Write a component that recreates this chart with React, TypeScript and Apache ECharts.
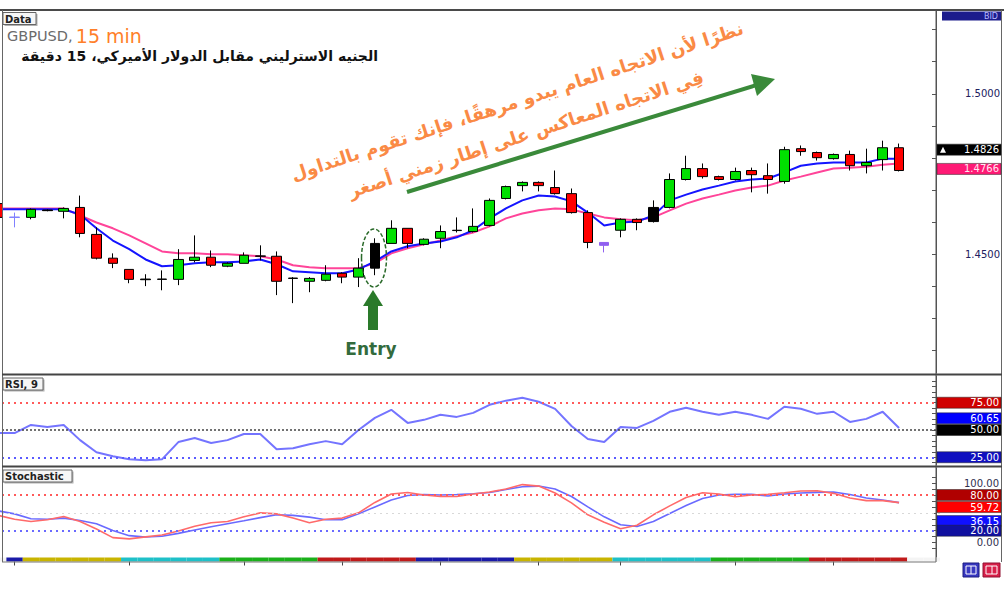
import React, { useEffect, useRef } from 'react';
import * as echarts from 'echarts';

// ---------- data ----------
const categories = Array.from({ length: 58 }, (_, i) => `#${i + 1}`);

const opens = [1.4658, 1.4616, 1.4615, 1.4636, 1.4634, 1.4646, 1.4562, 1.4488, 1.4453, 1.4423,
  1.4422, 1.4422, 1.4481, 1.4491, 1.4463, 1.4472, 1.4495, 1.4494, 1.4426, 1.4416,
  1.4419, 1.4441, 1.4429, 1.4457, 1.4534, 1.4581, 1.4531, 1.4550, 1.4575, 1.4571,
  1.4590, 1.4674, 1.4714, 1.4724, 1.4708, 1.4689, 1.4630, 1.4537, 1.4575, 1.4609,
  1.4602, 1.4646, 1.4733, 1.4767, 1.4742, 1.4733, 1.4761, 1.4745, 1.4727, 1.4829,
  1.4817, 1.4798, 1.4811, 1.4776, 1.4795, 1.4832];
const closes = [1.4615, 1.4615, 1.4640, 1.4638, 1.4643, 1.4565, 1.4488, 1.4472, 1.4422, 1.4421,
  1.4423, 1.4484, 1.4491, 1.4466, 1.4472, 1.4497, 1.4494, 1.4416, 1.4425, 1.4425,
  1.4438, 1.4429, 1.4457, 1.4534, 1.4581, 1.4534, 1.4547, 1.4571, 1.4574, 1.4587,
  1.4668, 1.4711, 1.4724, 1.4714, 1.4689, 1.4630, 1.4537, 1.4528, 1.4609, 1.4599,
  1.4646, 1.4733, 1.4767, 1.4742, 1.4733, 1.4758, 1.4748, 1.4733, 1.4826, 1.4820,
  1.4801, 1.4811, 1.4776, 1.4786, 1.4832, 1.4761];
const lows = [1.4612, 1.4584, 1.4609, 1.4634, 1.4612, 1.4553, 1.4484, 1.4457, 1.4410, 1.4401,
  1.4388, 1.4404, 1.4475, 1.4460, 1.4460, 1.4472, 1.4481, 1.4373, 1.4348, 1.4382,
  1.4416, 1.4410, 1.4398, 1.4435, 1.4534, 1.4519, 1.4528, 1.4519, 1.4568, 1.4568,
  1.4587, 1.4671, 1.4696, 1.4696, 1.4686, 1.4627, 1.4519, 1.4506, 1.4553, 1.4575,
  1.4599, 1.4643, 1.4730, 1.4736, 1.4730, 1.4730, 1.4693, 1.4689, 1.4720, 1.4807,
  1.4792, 1.4795, 1.4761, 1.4752, 1.4761, 1.4758];
const highs = [1.4661, 1.4630, 1.4643, 1.4640, 1.4646, 1.4683, 1.4584, 1.4503, 1.4453, 1.4438,
  1.4450, 1.4516, 1.4559, 1.4512, 1.4475, 1.4506, 1.4528, 1.4509, 1.4429, 1.4429,
  1.4466, 1.4444, 1.4488, 1.4550, 1.4606, 1.4581, 1.4550, 1.4590, 1.4615, 1.4643,
  1.4674, 1.4714, 1.4727, 1.4727, 1.4761, 1.4705, 1.4637, 1.4537, 1.4612, 1.4612,
  1.4668, 1.4752, 1.4807, 1.4783, 1.4745, 1.4770, 1.4770, 1.4783, 1.4835, 1.4839,
  1.4820, 1.4814, 1.4823, 1.4829, 1.4854, 1.4845];

const fastMA = [1.4640, 1.4640, 1.4640, 1.4640, 1.4640, 1.4624, 1.4581, 1.4543, 1.4516, 1.4484,
  1.4463, 1.4466, 1.4472, 1.4475, 1.4475, 1.4478, 1.4484, 1.4469, 1.4447, 1.4444,
  1.4441, 1.4441, 1.4453, 1.4478, 1.4509, 1.4525, 1.4534, 1.4540, 1.4553, 1.4575,
  1.4612, 1.4643, 1.4668, 1.4683, 1.4680, 1.4665, 1.4630, 1.4590, 1.4599, 1.4602,
  1.4621, 1.4668, 1.4686, 1.4702, 1.4714, 1.4727, 1.4733, 1.4736, 1.4755, 1.4776,
  1.4783, 1.4786, 1.4786, 1.4786, 1.4798, 1.4798];
const slowMA = [1.4643, 1.4643, 1.4643, 1.4643, 1.4643, 1.4621, 1.4599, 1.4581, 1.4559, 1.4534,
  1.4509, 1.4503, 1.4503, 1.4500, 1.4500, 1.4497, 1.4494, 1.4484, 1.4466, 1.4460,
  1.4457, 1.4457, 1.4457, 1.4472, 1.4503, 1.4519, 1.4531, 1.4543, 1.4556, 1.4568,
  1.4587, 1.4612, 1.4627, 1.4637, 1.4643, 1.4640, 1.4627, 1.4615, 1.4609, 1.4606,
  1.4615, 1.4637, 1.4658, 1.4674, 1.4686, 1.4699, 1.4708, 1.4714, 1.4730, 1.4742,
  1.4755, 1.4767, 1.4770, 1.4773, 1.4779, 1.4783];

const rsi9 = [47.2, 47.2, 54.6, 52.8, 54.6, 40.7, 29.6, 25.9, 23.1, 22.2,
  23.1, 38.9, 42.6, 38.0, 40.7, 46.3, 46.3, 32.4, 33.3, 37.0,
  39.8, 37.0, 50.0, 61.1, 68.5, 56.5, 59.3, 63.9, 62.0, 65.7,
  73.1, 76.9, 79.6, 75.9, 69.4, 53.7, 41.7, 38.9, 52.8, 51.9,
  58.3, 66.7, 70.4, 66.7, 63.9, 66.7, 63.9, 60.2, 71.3, 69.4,
  64.8, 66.7, 57.4, 60.2, 66.7, 51.9];

const stochMain = [53.3, 48.3, 40.0, 39.2, 41.2, 37.2, 31.7, 20.5, 11.7, 9.5,
  10.8, 15.5, 21.2, 26.7, 31.7, 36.7, 42.0, 46.7, 45.8, 42.8,
  38.3, 38.3, 48.3, 60.0, 71.7, 79.2, 80.8, 80.0, 80.8, 82.0,
  84.2, 89.2, 93.8, 95.0, 90.0, 77.5, 60.0, 43.3, 30.0, 27.2,
  35.5, 48.8, 62.5, 74.2, 80.0, 81.2, 81.2, 78.3, 81.7, 83.3,
  84.5, 85.0, 80.8, 75.0, 71.7, 67.2];
const stochSignal = [45.8, 39.2, 35.5, 38.3, 43.8, 35.5, 22.8, 8.3, 6.2, 9.7,
  12.8, 19.5, 27.5, 33.3, 35.5, 43.3, 50.0, 48.3, 41.2, 33.3,
  39.2, 41.2, 50.0, 67.5, 81.7, 84.2, 80.0, 77.5, 77.5, 81.7,
  85.0, 90.0, 97.5, 95.0, 83.3, 66.7, 46.7, 34.2, 23.3, 29.2,
  46.7, 61.7, 75.8, 83.8, 81.7, 77.2, 80.0, 81.2, 83.8, 86.7,
  87.2, 82.8, 75.0, 70.5, 70.5, 67.2];

const priceTicks = [1.42, 1.43, 1.44, 1.45, 1.46, 1.47, 1.48, 1.49, 1.50, 1.51, 1.52];
const priceLabels = [1.45, 1.50];
const rsiTicks = [20, 25, 30, 35, 40, 45, 50, 55, 60, 65, 70, 75, 80, 85, 90, 95];
const stochTicks = [-10, 0, 10, 20, 30, 40, 50, 60, 70, 80, 90, 100, 110];
const timeTickBars = [1, 8, 15, 21, 27, 33, 38, 45, 51];

const bidPrice = 1.4826;
const maTagPrice = 1.4766;
const rsiLevels = [75, 50, 25];
const rsiTagValues = [75, 60.65, 50, 25];
const stochLevels = [80, 50, 20];
const stochTagValues = [100, 80, 59.72, 36.15, 20, 0];

// styles (kept apart from the values)
const specialCandleColors: Record<number, string> = {
  1: '#8080ff', 3: '#000000', 9: '#000000', 10: '#000000', 16: '#000000',
  18: '#000000', 23: '#000000', 28: '#000000', 37: '#9060f0', 40: '#000000',
};
const sessionSegments: [number, number, string][] = [
  [0, 0, '#f4f4f4'], [1, 1, '#1a1aa8'], [2, 7, '#c8b400'], [8, 13, '#1ec0c8'],
  [14, 19, '#1ab01a'], [20, 25, '#c01a1a'], [26, 31, '#1a1aa8'], [32, 37, '#c8b400'],
  [38, 43, '#1ec0c8'], [44, 49, '#1ab01a'], [50, 55, '#c01a1a'], [56, 57, '#f4f4f4'],
];
const rsiTagColors = ['#d00000', '#0000ff', '#000000', '#1010c0'];
const stochTagColors = ['', '#b00000', '#ff0000', '#1010ff', '#1010a0', ''];

const titleArabic = 'الجنيه الاسترليني مقابل الدولار الأميركي، 15 دقيقة';
const noteLine1 = 'نظرًا لأن الاتجاه العام يبدو مرهقًا، فإنك تقوم بالتداول';
const noteLine2 = 'فِي الاتجاه المعاكس على إطار زمني أصغر';
const RLE = '\u202B';
const PDF = '\u202C';

const FONT = '"DejaVu Sans", sans-serif';
// the chart canvas starts SHIFT px left of the page so the first bar is cut by the frame
const SHIFT = 10;

function sessionColor(i: number) {
  for (const [a, b, c] of sessionSegments) if (i >= a && i <= b) return c;
  return '#f4f4f4';
}

function buildCandles() {
  return opens.map((o, i) => {
    const item: any = { value: [o, closes[i], lows[i], highs[i]] };
    const c = specialCandleColors[i];
    if (c) {
      item.itemStyle = { color: c, color0: c, borderColor: c, borderColor0: c };
    }
    return item;
  });
}

const GRID_LEFT = 0;
const GRID_W = 950;

function buildOption(): any {
  const hiddenX = (gridIndex: number) => ({
    type: 'category', gridIndex, data: categories, boundaryGap: true,
    axisLine: { show: false }, axisTick: { show: false }, axisLabel: { show: false },
    splitLine: { show: false },
  });
  const rightY = (gridIndex: number, min: number, max: number, ticks: number[]) => ({
    type: 'value', gridIndex, position: 'right', min, max, offset: -4, scale: true,
    axisLine: { show: true, lineStyle: { color: '#555', width: 1 } },
    axisTick: { show: true, inside: true, length: 4, customValues: ticks, lineStyle: { color: '#555' } },
    axisLabel: { show: false },
    splitLine: { show: false },
  });
  const y0: any = rightY(0, 1.41304, 1.52578, priceTicks);
  y0.axisLabel = {
    show: true, customValues: priceLabels, formatter: (v: number) => v.toFixed(4),
    align: 'right', margin: 64, color: '#202060', fontSize: 10, fontFamily: FONT,
  };
  const dotted = (v: number, color: string, dash: number[], width: number) => ({
    yAxis: v, lineStyle: { color, type: dash, width, cap: 'butt' },
  });
  return {
    animation: false,
    backgroundColor: '#ffffff',
    grid: [
      { left: GRID_LEFT, top: 11, width: GRID_W, height: 362 },
      { left: GRID_LEFT, top: 376, width: GRID_W, height: 89 },
      { left: GRID_LEFT, top: 468, width: GRID_W, height: 89 },
      { left: GRID_LEFT, top: 557.5, width: GRID_W, height: 4 },
    ],
    xAxis: [
      hiddenX(0), hiddenX(1), hiddenX(2),
      {
        type: 'category', gridIndex: 3, data: categories, boundaryGap: true,
        axisLine: { show: false },
        axisTick: {
          show: true, alignWithLabel: true, length: 4,
          interval: (idx: number) => timeTickBars.includes(idx),
          lineStyle: { color: '#444' },
        },
        axisLabel: { show: false }, splitLine: { show: false },
      },
    ],
    yAxis: [
      y0,
      rightY(1, 17.9, 99.5, rsiTicks),
      rightY(2, -24.2, 125.4, stochTicks),
      { type: 'value', gridIndex: 3, min: 0, max: 1, show: false },
    ],
    series: [
      {
        name: 'GBPUSD', type: 'candlestick', xAxisIndex: 0, yAxisIndex: 0,
        barWidth: 10, data: buildCandles(),
        itemStyle: { color: '#00e000', color0: '#ff0000', borderColor: '#000', borderColor0: '#000', borderWidth: 1 },
        z: 3,
      },
      {
        name: 'MA slow', type: 'line', xAxisIndex: 0, yAxisIndex: 0, data: slowMA,
        symbol: 'none', lineStyle: { color: '#ff4499', width: 2 }, z: 2,
      },
      {
        name: 'MA fast', type: 'line', xAxisIndex: 0, yAxisIndex: 0, data: fastMA,
        symbol: 'none', lineStyle: { color: '#1414ff', width: 2 }, z: 2,
      },
      {
        name: 'RSI, 9', type: 'line', xAxisIndex: 1, yAxisIndex: 1, data: rsi9,
        symbol: 'none', lineStyle: { color: '#7474ff', width: 2 },
        markLine: {
          silent: true, symbol: 'none', label: { show: false }, animation: false,
          data: [
            dotted(rsiLevels[0], '#ff5a5a', [2, 4], 2),
            dotted(rsiLevels[1], '#444444', [2, 2], 1.5),
            dotted(rsiLevels[2], '#5a5aff', [2, 4], 2),
          ],
        },
      },
      {
        name: 'Stoch main', type: 'line', xAxisIndex: 2, yAxisIndex: 2, data: stochMain,
        symbol: 'none', lineStyle: { color: '#6a6aff', width: 1.6 },
        markLine: {
          silent: true, symbol: 'none', label: { show: false }, animation: false,
          data: [
            dotted(stochLevels[0], '#ff5a5a', [2, 4], 2),
            dotted(stochLevels[1], '#d8d8d8', [2, 4], 1),
            dotted(stochLevels[2], '#6a6aff', [2, 4], 2),
          ],
        },
      },
      {
        name: 'Stoch signal', type: 'line', xAxisIndex: 2, yAxisIndex: 2, data: stochSignal,
        symbol: 'none', lineStyle: { color: '#ff6a6a', width: 1.6 },
      },
      {
        name: 'Sessions', type: 'bar', xAxisIndex: 3, yAxisIndex: 3, barCategoryGap: 0,
        data: categories.map((_, i) => ({ value: 1, itemStyle: { color: sessionColor(i) } })),
        silent: true,
      },
    ],
  };
}

function tag(y: number, text: string, bg: string, fg: string, withArrow = false): any[] {
  const els: any[] = [];
  if (bg) {
    els.push({ type: 'rect', shape: { x: 937, y: y - 5.5, width: 64, height: 11 }, style: { fill: bg, stroke: '#222', lineWidth: 0.5 }, z: 50 });
  }
  if (withArrow) {
    els.push({ type: 'polygon', shape: { points: [[940, y + 3], [946, y + 3], [943, y - 3]] }, style: { fill: '#fff' }, z: 51 });
  }
  els.push({
    type: 'text', x: 999, y, z: 52,
    style: { text, fill: fg, font: `10px ${FONT}`, align: 'right', textAlign: 'right', verticalAlign: 'middle', textVerticalAlign: 'middle' },
  });
  return els;
}

function panelLabel(x: number, y: number, w: number, text: string): any[] {
  return [
    { type: 'rect', shape: { x: x + 1.5, y: y + 1.5, width: w, height: 12 }, style: { fill: '#b0b0b0' }, z: 40 },
    { type: 'rect', shape: { x, y, width: w, height: 12 }, style: { fill: '#f6f6f6', stroke: '#666', lineWidth: 1 }, z: 41 },
    {
      type: 'text', x: x + 2, y: y + 6.5, z: 42,
      style: { text, fill: '#222', font: `bold 10px ${FONT}`, verticalAlign: 'middle', textVerticalAlign: 'middle' },
    },
  ];
}

// page coordinates (the group is moved by SHIFT to undo the canvas shift)
function buildGraphics(py: (axis: number, v: number) => number): any[] {
  const g: any[] = [];
  // frame
  g.push({ type: 'rect', shape: { x: 0, y: 9, width: 1004, height: 2 }, style: { fill: '#4a4a4a' }, z: 30 });
  g.push({ type: 'line', shape: { x1: 2.5, y1: 10, x2: 2.5, y2: 562 }, style: { stroke: '#666', lineWidth: 1 }, z: 30 });
  g.push({ type: 'line', shape: { x1: 1001.5, y1: 10, x2: 1001.5, y2: 562 }, style: { stroke: '#666', lineWidth: 1 }, z: 30 });
  g.push({ type: 'line', shape: { x1: 936, y1: 10, x2: 936, y2: 562 }, style: { stroke: '#555', lineWidth: 1 }, z: 30 });
  g.push({ type: 'rect', shape: { x: 2, y: 373.5, width: 1000, height: 2 }, style: { fill: '#444' }, z: 30 });
  g.push({ type: 'rect', shape: { x: 2, y: 465.5, width: 1000, height: 2 }, style: { fill: '#444' }, z: 30 });
  g.push({ type: 'line', shape: { x1: 2, y1: 562, x2: 936, y2: 562 }, style: { stroke: '#777', lineWidth: 1 }, z: 30 });

  // panel labels
  g.push(...panelLabel(3, 12.5, 33, 'Data'));
  g.push(...panelLabel(3, 378, 40, 'RSI, 9'));
  g.push(...panelLabel(3, 470, 69, 'Stochastic'));

  // BID header
  g.push({ type: 'rect', shape: { x: 942, y: 11.5, width: 59, height: 9 }, style: { fill: '#1c1c8c' }, z: 50 });
  g.push({ type: 'text', x: 998, y: 16, z: 51, style: { text: 'BID', fill: '#b8b8ff', font: `8px ${FONT}`, align: 'right', textAlign: 'right', verticalAlign: 'middle', textVerticalAlign: 'middle' } });

  // price tags
  g.push(...tag(py(0, bidPrice), bidPrice.toFixed(4), '#000000', '#ffffff', true));
  g.push(...tag(py(0, maTagPrice), maTagPrice.toFixed(4), '#ff1a75', '#ffe6f0'));
  rsiTagValues.forEach((v, i) => g.push(...tag(py(1, v), v.toFixed(2), rsiTagColors[i], '#ffffff')));
  stochTagValues.forEach((v, i) => g.push(...tag(py(2, v), v.toFixed(2), stochTagColors[i], stochTagColors[i] ? '#ffffff' : '#303050')));

  // bottom buttons
  g.push({ type: 'rect', shape: { x: 963, y: 563, width: 16, height: 14 }, style: { fill: '#3838c0', stroke: '#1a1a80' }, z: 50 });
  g.push({ type: 'rect', shape: { x: 966, y: 566, width: 10, height: 8 }, style: { fill: 'none', stroke: '#ffffff', lineWidth: 1 }, z: 51 });
  g.push({ type: 'line', shape: { x1: 971, y1: 566, x2: 971, y2: 574 }, style: { stroke: '#ffffff', lineWidth: 1 }, z: 51 });
  g.push({ type: 'rect', shape: { x: 983, y: 563, width: 17, height: 14 }, style: { fill: '#d8204a', stroke: '#901030' }, z: 50 });
  g.push({ type: 'rect', shape: { x: 986, y: 566, width: 11, height: 8 }, style: { fill: 'none', stroke: '#ffffff', lineWidth: 1 }, z: 51 });
  g.push({ type: 'line', shape: { x1: 992, y1: 566, x2: 992, y2: 574 }, style: { stroke: '#ffffff', lineWidth: 1 }, z: 51 });

  // titles
  g.push({
    type: 'text', x: 7, y: 36, z: 60,
    style: {
      text: '{a|GBPUSD,} {b|15 min}',
      verticalAlign: 'middle', textVerticalAlign: 'middle',
      rich: {
        a: { fill: '#6b6b6b', fontSize: 14.5, fontFamily: FONT },
        b: { fill: '#ff7f2a', fontSize: 19, fontFamily: FONT },
      },
    },
  });
  g.push({
    type: 'text', x: 378, y: 56, z: 60,
    style: { text: RLE + titleArabic + PDF, fill: '#111', font: `bold 14px ${FONT}`, align: 'right', textAlign: 'right', verticalAlign: 'middle', textVerticalAlign: 'middle' },
  });

  // rotated note
  const rot = 0.315;
  g.push({
    type: 'text', x: 517, y: 101, rotation: rot, z: 60,
    style: { text: RLE + noteLine1 + PDF, fill: '#fa8a45', font: `bold 18px ${FONT}`, align: 'center', textAlign: 'center', verticalAlign: 'middle', textVerticalAlign: 'middle' },
  });
  g.push({
    type: 'text', x: 526, y: 134, rotation: rot, z: 60,
    style: { text: RLE + noteLine2 + PDF, fill: '#fa8a45', font: `bold 18px ${FONT}`, align: 'center', textAlign: 'center', verticalAlign: 'middle', textVerticalAlign: 'middle' },
  });

  // trend arrow
  g.push({ type: 'line', shape: { x1: 407, y1: 192, x2: 760, y2: 84 }, style: { stroke: '#3a8a3a', lineWidth: 4 }, z: 60 });
  g.push({ type: 'polygon', shape: { points: [[775, 79], [751, 74], [757, 96]] }, style: { fill: '#3a8a3a' }, z: 60 });

  // entry markup
  g.push({ type: 'ellipse', shape: { cx: 374, cy: 258, rx: 12.5, ry: 29 }, style: { fill: 'none', stroke: '#2a6a2a', lineWidth: 1.5, lineDash: [4, 2] }, z: 60 });
  g.push({ type: 'polygon', shape: { points: [[373, 290], [363, 306], [383, 306]] }, style: { fill: '#2a7a2a' }, z: 60 });
  g.push({ type: 'rect', shape: { x: 368, y: 305, width: 10, height: 25 }, style: { fill: '#2a7a2a' }, z: 60 });
  g.push({
    type: 'text', x: 371, y: 349, z: 60,
    style: { text: 'Entry', fill: '#336b3d', font: `bold 17px ${FONT}`, align: 'center', textAlign: 'center', verticalAlign: 'middle', textVerticalAlign: 'middle' },
  });
  return [{ type: 'group', x: SHIFT, y: 0, children: g }];
}

export default function App() {
  const ref = useRef<HTMLDivElement>(null);
  useEffect(() => {
    if (!ref.current) return;
    const chart = echarts.init(ref.current, undefined, { renderer: 'svg' });
    chart.setOption(buildOption());
    const py = (axis: number, v: number) => chart.convertToPixel({ yAxisIndex: axis } as any, v) as unknown as number;
    chart.setOption({ graphic: { elements: buildGraphics(py) } });
    return () => chart.dispose();
  }, []);
  return (
    <div
      ref={ref}
      style={{ position: 'fixed', left: -SHIFT, top: 0, width: 1004 + SHIFT, height: 590, background: '#fff' }}
    />
  );
}
